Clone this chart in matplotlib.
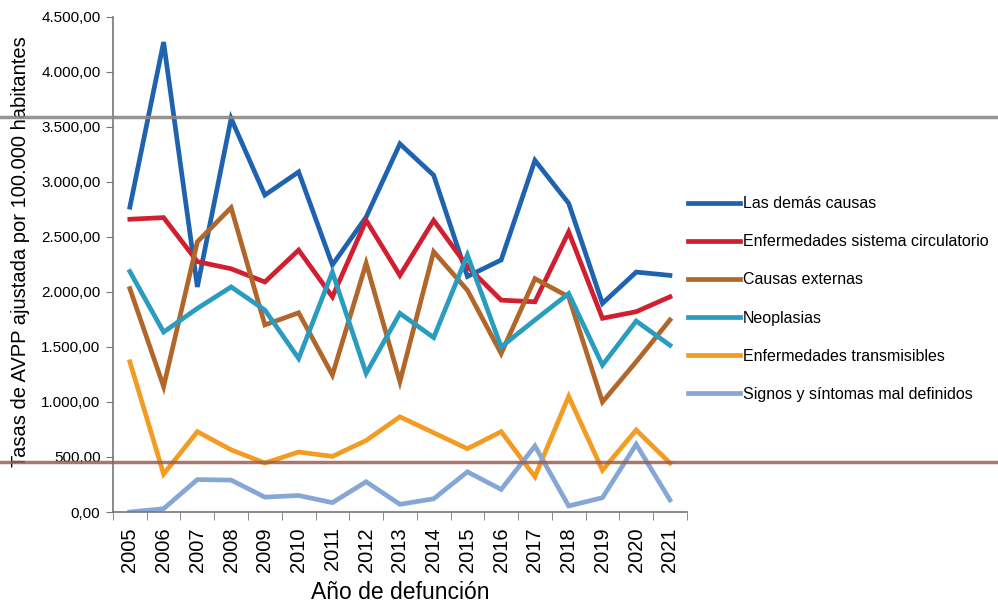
import matplotlib
matplotlib.use("Agg")
import matplotlib.pyplot as plt
from matplotlib.lines import Line2D
from matplotlib.ticker import FuncFormatter, FixedLocator, NullFormatter

plt.rcParams['font.family'] = ['Liberation Sans', 'DejaVu Sans']

years = [str(y) for y in range(2005, 2022)]

# tasas AVPP por 100.000 hab.
demas_causas = [2770, 4270, 2045, 3575, 2880, 3090, 2245, 2680, 3345, 3060,
                2140, 2290, 3195, 2805, 1895, 2180, 2150]
circulatorio = [2660, 2675, 2275, 2210, 2090, 2380, 1955, 2650, 2150, 2650,
                2230, 1925, 1910, 2545, 1760, 1820, 1955]
externas = [2030, 1140, 2455, 2765, 1700, 1810, 1245, 2260, 1185, 2365,
            2015, 1440, 2120, 1955, 1000, 1365, 1745]
neoplasias = [2185, 1635, 1850, 2045, 1835, 1395, 2180, 1260, 1805, 1585,
              2335, 1500, 1745, 1985, 1335, 1735, 1515]
transmisibles = [1365, 345, 730, 565, 445, 545, 505, 650, 865, 720,
                 575, 730, 320, 1050, 380, 745, 445]
mal_definidos = [0, 30, 295, 290, 135, 150, 85, 275, 70, 120,
                 365, 205, 600, 55, 130, 615, 110]

series = [
    ("Las demás causas", demas_causas, "#1f63b0"),
    ("Enfermedades sistema circulatorio", circulatorio, "#d01f30"),
    ("Causas externas", externas, "#b2672a"),
    ("Neoplasias", neoplasias, "#2a9cc0"),
    ("Enfermedades transmisibles", transmisibles, "#f49b23"),
    ("Signos y síntomas mal definidos", mal_definidos, "#86a7d6"),
]


def fmt_es(v, pos):
    s = f"{v:,.2f}"
    return s.replace(",", "X").replace(".", ",").replace("X", ".")


fig = plt.figure(figsize=(9.98, 6.04), dpi=100)
ax = fig.add_axes([0.1132, 0.1523, 0.575, 0.82])

x = list(range(len(years)))
for name, vals, col in series:
    ax.plot(x, vals, color=col, lw=3.4, label=name, solid_joinstyle='miter')

ax.set_xlim(-0.5, len(years) - 0.5)
ax.set_ylim(0, 4500)
ax.set_yticks(range(0, 4501, 500))
ax.yaxis.set_major_formatter(FuncFormatter(fmt_es))

ax.set_xticks(x)
ax.set_xticklabels(years, rotation=90, fontsize=14.5)
ax.xaxis.set_minor_locator(FixedLocator([i - 0.5 for i in range(len(years) + 1)]))
ax.xaxis.set_minor_formatter(NullFormatter())
ax.tick_params(axis='x', which='major', length=0, pad=11)
ax.tick_params(axis='x', which='minor', length=6, color='#777777', direction='out')
ax.tick_params(axis='y', length=5, color='#777777', direction='out', labelsize=11, pad=4)

for side in ['top', 'right']:
    ax.spines[side].set_visible(False)
for side in ['left', 'bottom']:
    ax.spines[side].set_color('#777777')
    ax.spines[side].set_linewidth(1.2)

ax.set_xlabel("Año de defunción", fontsize=16.5)
ax.xaxis.set_label_coords(0.5, -0.176)
ax.xaxis.label.set_va('baseline')
ax.set_ylabel("Tasas de AVPP ajustada por 100.000 habitantes", fontsize=14.5)
ax.yaxis.set_label_coords(-0.162, 0.525)
ax.yaxis.label.set_va('center')

ax.legend(loc='center left', bbox_to_anchor=(1.0, 0.43), frameon=False, fontsize=11.5,
          handlelength=3.25, handletextpad=0.2, labelspacing=1.45,
          borderaxespad=0.0, borderpad=0.05)

# marcas horizontales del escaneo
fig.add_artist(Line2D([0, 1], [1 - 117 / 604, 1 - 117 / 604], transform=fig.transFigure,
                      color='#8e8686', lw=2.5, alpha=0.9))
fig.add_artist(Line2D([0, 1], [1 - 462 / 604, 1 - 462 / 604], transform=fig.transFigure,
                      color='#9a5f52', lw=2.5, alpha=0.85))

fig.savefig("out.png", dpi=100)
